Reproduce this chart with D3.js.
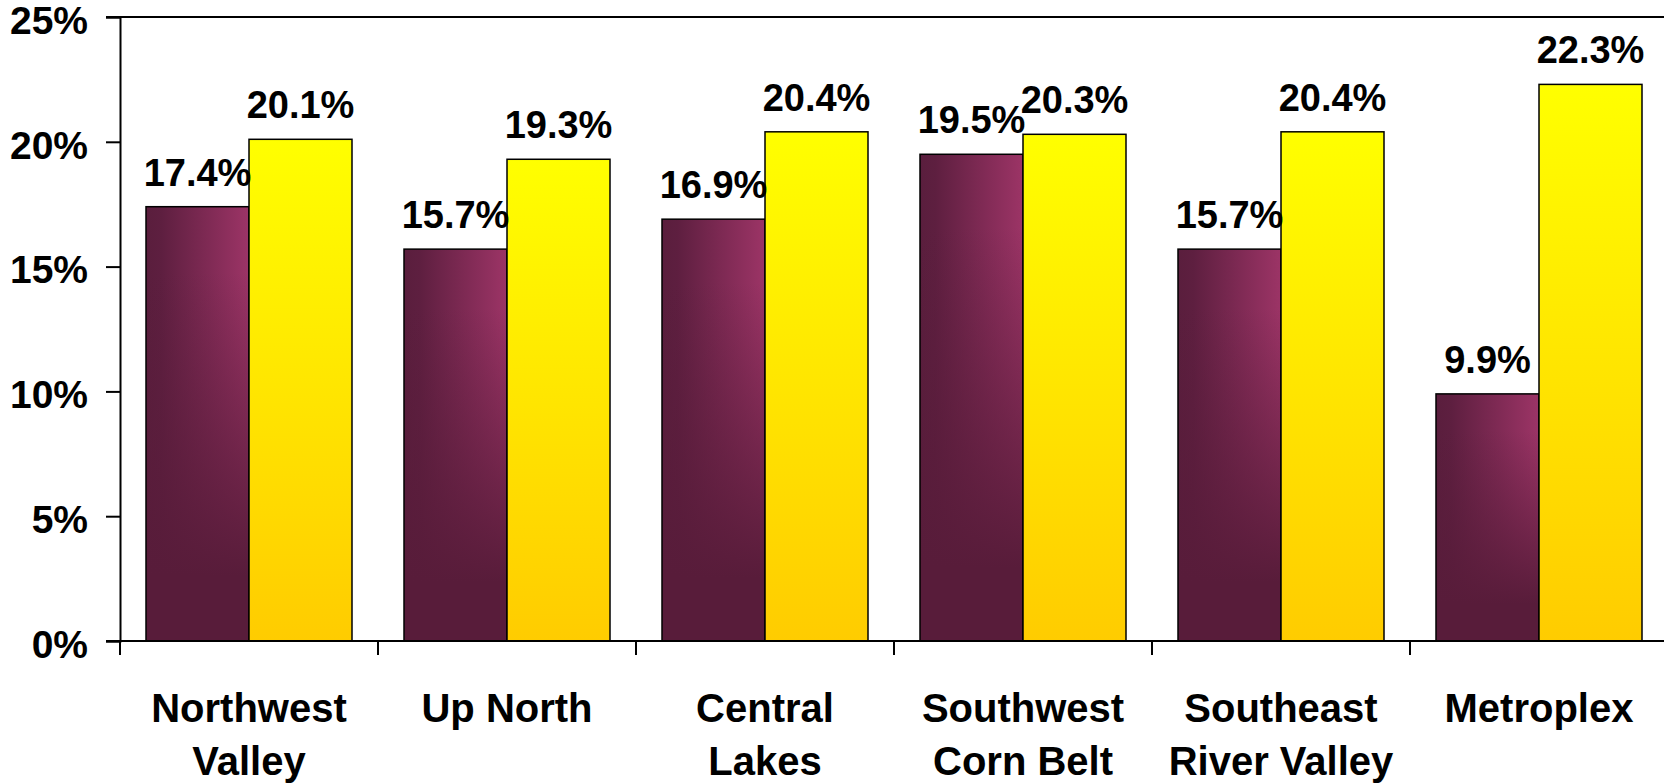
<!DOCTYPE html>
<html>
<head>
<meta charset="utf-8">
<script src="https://cdn.jsdelivr.net/npm/d3@7"></script>
<style>
  html, body { margin: 0; padding: 0; background: #fff; }
  svg { display: block; }
  text { font-family: "Liberation Sans", Arial, sans-serif; font-weight: bold; fill: #000; }
</style>
</head>
<body>
<svg id="chart" width="1664" height="784"></svg>
<script>
const categories = [["Northwest", "Valley"], ["Up North"], ["Central", "Lakes"], ["Southwest", "Corn Belt"], ["Southeast", "River Valley"], ["Metroplex"]];
const categoryKeys = ["Northwest Valley", "Up North", "Central Lakes", "Southwest Corn Belt", "Southeast River Valley", "Metroplex"];
const series1 = [17.4, 15.7, 16.9, 19.5, 15.7, 9.9];
const series2 = [20.1, 19.3, 20.4, 20.3, 20.4, 22.3];
const yTicks = [0, 5, 10, 15, 20, 25];

const svg = d3.select("#chart");
const plot = { left: 120, right: 1668, top: 17, bottom: 641 };

const y = d3.scaleLinear().domain([0, 25]).range([plot.bottom, plot.top]);
const x0 = d3.scaleBand().domain(categoryKeys).range([plot.left, plot.right]).paddingInner(0).paddingOuter(0);
const innerPad = 26;
const x1 = d3.scaleBand().domain(["s1", "s2"]).range([0, x0.bandwidth() - 2 * innerPad]).padding(0);

const defs = svg.append("defs");
const gH = defs.append("linearGradient").attr("id", "maroonH").attr("x1", 0).attr("y1", 0).attr("x2", 1).attr("y2", 0);
gH.append("stop").attr("offset", "0").attr("stop-color", "#5a1e3d");
gH.append("stop").attr("offset", "0.15").attr("stop-color", "#5e1f40");
gH.append("stop").attr("offset", "1").attr("stop-color", "#9c3466");
const gV = defs.append("linearGradient").attr("id", "maroonV").attr("x1", 0).attr("y1", 0).attr("x2", 0).attr("y2", 1);
gV.append("stop").attr("offset", "0").attr("stop-color", "#581c3a").attr("stop-opacity", 0);
gV.append("stop").attr("offset", "0.15").attr("stop-color", "#581c3a").attr("stop-opacity", 0);
gV.append("stop").attr("offset", "0.85").attr("stop-color", "#581c3a").attr("stop-opacity", 1);
gV.append("stop").attr("offset", "1").attr("stop-color", "#581c3a").attr("stop-opacity", 1);
const gY = defs.append("linearGradient").attr("id", "yellowV").attr("x1", 0).attr("y1", 0).attr("x2", 0).attr("y2", 1);
gY.append("stop").attr("offset", "0").attr("stop-color", "#ffff00");
gY.append("stop").attr("offset", "1").attr("stop-color", "#ffcc00");

// top border line
svg.append("line").attr("x1", plot.left - 14).attr("x2", 1664).attr("y1", y(25)).attr("y2", y(25))
  .attr("stroke", "#000").attr("stroke-width", 2);

// y axis
const yAxis = d3.axisLeft(y).tickValues(yTicks).tickSize(14).tickPadding(18).tickFormat(d => d + "%");
const gy = svg.append("g").attr("transform", `translate(${plot.left},0)`).call(yAxis);
gy.select(".domain").attr("stroke", "#000").attr("stroke-width", 2);
gy.selectAll(".tick line").attr("stroke", "#000").attr("stroke-width", 2);
gy.selectAll(".tick text").attr("font-size", 39).attr("font-family", null).attr("dy", "0.42em").attr("x", -32);

// bars
const groups = svg.append("g").selectAll("g").data(categoryKeys).join("g")
  .attr("transform", d => `translate(${x0(d) + innerPad},0)`);

groups.each(function(key, i) {
  const g = d3.select(this);
  const v1 = series1[i], v2 = series2[i];
  g.append("rect").attr("x", x1("s1")).attr("y", y(v1)).attr("width", x1.bandwidth()).attr("height", y(0) - y(v1))
    .attr("fill", "url(#maroonH)");
  g.append("rect").attr("x", x1("s1")).attr("y", y(v1)).attr("width", x1.bandwidth()).attr("height", y(0) - y(v1))
    .attr("fill", "url(#maroonV)").attr("stroke", "#000").attr("stroke-width", 1.5);
  g.append("rect").attr("x", x1("s2")).attr("y", y(v2)).attr("width", x1.bandwidth()).attr("height", y(0) - y(v2))
    .attr("fill", "url(#yellowV)").attr("stroke", "#000").attr("stroke-width", 1.5);
});

// x axis
const xAxisLine = svg.append("g");
xAxisLine.append("line").attr("x1", plot.left - 14).attr("x2", plot.right).attr("y1", y(0)).attr("y2", y(0))
  .attr("stroke", "#000").attr("stroke-width", 2);
xAxisLine.selectAll("line.tk").data(categoryKeys.concat(["end"])).join("line").attr("class", "tk")
  .attr("x1", (d, i) => plot.left + i * x0.bandwidth()).attr("x2", (d, i) => plot.left + i * x0.bandwidth())
  .attr("y1", y(0)).attr("y2", y(0) + 14).attr("stroke", "#000").attr("stroke-width", 2);

// category labels
svg.append("g").selectAll("text").data(categoryKeys).join("text")
  .attr("text-anchor", "middle").attr("font-size", 40)
  .attr("x", d => x0(d) + x0.bandwidth() / 2).attr("y", 722)
  .each(function(d, i) {
    const t = d3.select(this);
    categories[i].forEach((line, j) => {
      t.append("tspan").attr("x", x0(d) + x0.bandwidth() / 2).attr("y", 722 + j * 53).text(line);
    });
  });

// value labels
const labels = svg.append("g");
groups.each(function(key, i) {
  const cx = x0(key) + innerPad;
  labels.append("text").attr("text-anchor", "middle").attr("font-size", 38)
    .attr("x", cx + x1("s1") + x1.bandwidth() / 2).attr("y", y(series1[i]) - 21).text(series1[i].toFixed(1) + "%");
  labels.append("text").attr("text-anchor", "middle").attr("font-size", 38)
    .attr("x", cx + x1("s2") + x1.bandwidth() / 2).attr("y", y(series2[i]) - 21).text(series2[i].toFixed(1) + "%");
});
</script>
</body>
</html>
